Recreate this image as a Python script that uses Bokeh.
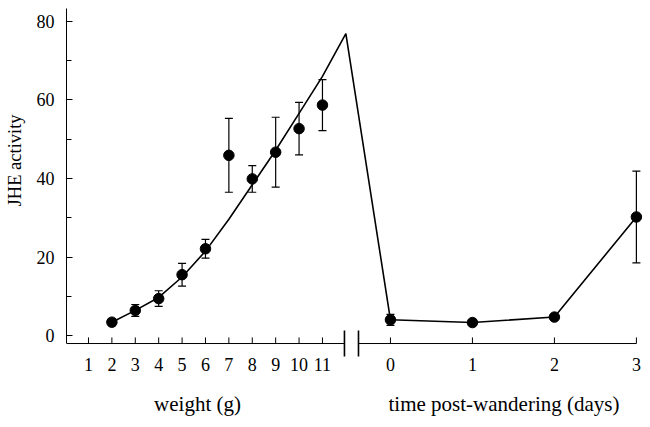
from bokeh.plotting import figure
from bokeh.models import (Range1d, FixedTicker, SingleIntervalTicker, Whisker, TeeHead,
                          ColumnDataSource, LinearAxis)
from bokeh.embed import file_html
from bokeh.resources import INLINE

# ---- data ----
weight_g = [2, 3, 4, 5, 6, 7, 8, 9, 10, 11]
weight_mean = [3.4, 6.4, 9.4, 15.5, 22.1, 45.9, 39.9, 46.7, 52.7, 58.7]
weight_err = [0.9, 1.5, 2.0, 2.9, 2.4, 9.4, 3.4, 8.9, 6.7, 6.5]

fit_g = [2, 3, 4, 5, 6, 7, 8, 9, 10, 11, 12]
fit_val = [3.4, 6.4, 9.7, 14.9, 21.5, 29.6, 38.4, 47.2, 56.6, 66.0, 76.9]

days = [0, 1, 2, 3]
day_mean = [4.0, 3.3, 4.7, 30.2]
day_err = [1.4, 0.5, 0.6, 11.7]

weight_ticks = [1, 2, 3, 4, 5, 6, 7, 8, 9, 10, 11]
day_ticks = [0, 1, 2, 3]

x_title_left = "weight (g)"
x_title_right = "time post-wandering (days)"
y_title = "JHE activity"

# ---- layout of the broken x axis (shared coordinate) ----
DAY0 = 13.906      # position of day 0 on the shared axis
DAY_SCALE = 3.504  # width of one day in shared units
BREAK_L, BREAK_R = 11.94, 12.54
X_START, X_END = 0.06, 24.85
Y_AXIS = -2.04     # where the x axis line sits
Y_START, Y_END = -5.6, 83.3
TICK_LEN = 1.55    # inward tick length in data units (~6 px)
BREAK_HALF = 3.3   # half height of the break marks in data units

def day_x(d):
    return DAY0 + d * DAY_SCALE

FONT = "Liberation Serif"

p = figure(width=650, height=427, output_backend="svg", toolbar_location=None,
           x_range=Range1d(X_START, X_END), y_range=Range1d(Y_START, Y_END),
           min_border_left=66, min_border_right=4, min_border_top=8, min_border_bottom=70)
p.outline_line_color = None
p.xgrid.visible = False
p.ygrid.visible = False
p.background_fill_color = "white"
p.border_fill_color = "white"

# y axis
ya = p.yaxis[0]
ya.ticker = SingleIntervalTicker(interval=20, num_minor_ticks=2)
ya.bounds = (Y_AXIS, Y_END)
ya.major_tick_in = 6
ya.major_tick_out = 0
ya.minor_tick_in = 5
ya.minor_tick_out = 0
ya.axis_line_color = "black"
ya.major_tick_line_color = "black"
ya.minor_tick_line_color = "black"
ya.major_label_text_font = FONT
ya.major_label_text_font_size = "18px"
ya.major_label_text_color = "black"
ya.major_label_standoff = 12

# y title as an outer axis label
ya2 = LinearAxis(ticker=FixedTicker(ticks=[44.6], minor_ticks=[]),
                 major_label_overrides={44.6: y_title},
                 major_label_orientation="vertical",
                 axis_line_color=None, major_tick_line_color=None, minor_tick_line_color=None,
                 major_label_text_font=FONT, major_label_text_font_size="18.5px",
                 major_label_text_color="black", major_label_standoff=2)
p.add_layout(ya2, "left")

# x axis: tick labels only (line and ticks drawn below with the break)
xa = p.xaxis[0]
w_tick_pos = [float(g) for g in weight_ticks]
d_tick_pos = [day_x(d) for d in day_ticks]
tick_pos = w_tick_pos + d_tick_pos
tick_lab = [str(g) for g in weight_ticks] + [str(d) for d in day_ticks]
xa.ticker = FixedTicker(ticks=tick_pos, minor_ticks=[])
xa.major_label_overrides = {t: l for t, l in zip(tick_pos, tick_lab)}
xa.axis_line_color = None
xa.major_tick_line_color = None
xa.minor_tick_line_color = None
xa.major_tick_in = 0
xa.major_tick_out = 0
xa.major_label_text_font = FONT
xa.major_label_text_font_size = "18px"
xa.major_label_text_color = "black"
xa.major_label_standoff = 0

# x titles as an outer axis
title_pos = [5.66, 18.76]
xa2 = LinearAxis(ticker=FixedTicker(ticks=title_pos, minor_ticks=[]),
                 major_label_overrides={title_pos[0]: x_title_left, title_pos[1]: x_title_right},
                 axis_line_color=None, major_tick_line_color=None, minor_tick_line_color=None,
                 major_label_text_font=FONT, major_label_text_font_size="21px",
                 major_label_text_color="black", major_label_standoff=12)
p.add_layout(xa2, "below")

# x axis line with break, ticks and break marks
p.segment(x0=[X_START, BREAK_R], y0=[Y_AXIS, Y_AXIS], x1=[BREAK_L, day_x(3)], y1=[Y_AXIS, Y_AXIS],
          line_color="black", line_width=1)
p.segment(x0=tick_pos, y0=[Y_AXIS] * len(tick_pos), x1=tick_pos,
          y1=[Y_AXIS + TICK_LEN] * len(tick_pos), line_color="black", line_width=1)
p.segment(x0=[BREAK_L, BREAK_R], y0=[Y_AXIS - BREAK_HALF] * 2, x1=[BREAK_L, BREAK_R],
          y1=[Y_AXIS + BREAK_HALF] * 2, line_color="black", line_width=1.6)

# fitted curve + post-wandering line
line_x = list(fit_g) + [day_x(d) for d in days]
line_y = list(fit_val) + list(day_mean)
p.line(line_x, line_y, line_color="black", line_width=1.6)

# error bars
err_src = ColumnDataSource(dict(
    x=list(weight_g) + [day_x(d) for d in days],
    lo=[m - e for m, e in zip(weight_mean, weight_err)] + [m - e for m, e in zip(day_mean, day_err)],
    hi=[m + e for m, e in zip(weight_mean, weight_err)] + [m + e for m, e in zip(day_mean, day_err)],
))
w = Whisker(source=err_src, base="x", lower="lo", upper="hi", dimension="height",
            line_color="black", line_width=1.2,
            upper_head=TeeHead(size=8, line_color="black", line_width=1.2),
            lower_head=TeeHead(size=8, line_color="black", line_width=1.2))
p.add_layout(w)

# points
p.scatter(weight_g, weight_mean, size=10.5, fill_color="black", line_color="black")
p.scatter([day_x(d) for d in days], day_mean, size=10.5, fill_color="black", line_color="black")

open("out.html", "w").write(file_html(p, INLINE))
